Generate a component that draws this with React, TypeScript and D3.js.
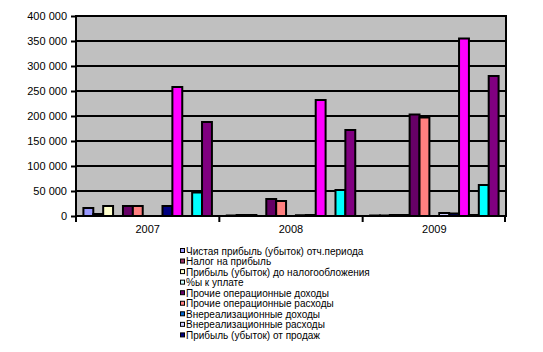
import React, { useEffect, useRef } from 'react';
import * as d3 from 'd3';

const years = ['2007', '2008', '2009'];

const seriesNames = [
    'Чистая прибыль (убыток) отч.периода',
    'Налог на прибыль',
    'Прибыль (убыток) до налогообложения',
    '%ы к уплате',
    'Прочие операционные доходы',
    'Прочие операционные расходы',
    'Внереализационные доходы',
    'Внереализационные расходы',
    'Прибыль (убыток) от продаж',
    'Выручка',
    'Коммерческие расходы',
    'Валовая прибыль',
    'Себестоимость',
];

// values per series, one per year
const netProfit = [16000, 1000, 1000];
const profitTax = [4000, 2000, 1000];
const profitBeforeTax = [20000, 2000, 2000];
const interestPayable = [0, 0, 2000];
const otherOpIncome = [20000, 34000, 203000];
const otherOpExpenses = [20000, 30000, 197000];
const nonOpIncome = [0, 0, 0];
const nonOpExpenses = [0, 1500, 6000];
const salesProfit = [20000, 2000, 5000];
const revenue = [258000, 232000, 355000];
const sellingExpenses = [0, 0, 2000];
const grossProfit = [47000, 52000, 62000];
const costOfSales = [188000, 172000, 280000];

const seriesValues = [
    netProfit, profitTax, profitBeforeTax, interestPayable, otherOpIncome, otherOpExpenses,
    nonOpIncome, nonOpExpenses, salesProfit, revenue, sellingExpenses, grossProfit, costOfSales,
];

const colors = [
    '#9999FF', '#993366', '#FFFFCC', '#CCFFFF', '#660066', '#FF8080',
    '#0066CC', '#CCCCFF', '#000080', '#FF00FF', '#FFFF00', '#00FFFF', '#800080',
];

const yTicks = [0, 50000, 100000, 150000, 200000, 250000, 300000, 350000, 400000];
const legendCount = 9;

const App = () => {
    const svgRef = useRef<SVGSVGElement>(null);

    useEffect(() => {
        const width = 543;
        const height = 352;
        const plot = { left: 76, right: 506, top: 16, bottom: 216 };
        const font = 'Arial, "Liberation Sans", sans-serif';

        const svg = d3.select(svgRef.current);
        svg.selectAll('*').remove();
        svg.attr('width', width).attr('height', height);

        svg.append('rect')
            .attr('width', width)
            .attr('height', height)
            .attr('fill', 'white');

        const x = d3.scaleBand()
            .domain(years)
            .range([plot.left, plot.right]);

        const xInner = d3.scaleBand()
            .domain(seriesNames.map((d, i) => String(i)))
            .range([0, x.bandwidth()])
            .paddingInner(0)
            .paddingOuter(0.75);

        const y = d3.scaleLinear()
            .domain([0, 400000])
            .range([plot.bottom, plot.top]);

        const fmt = (v: number) => d3.format(',')(v).replace(/,/g, ' ');

        // plot background
        svg.append('rect')
            .attr('x', plot.left)
            .attr('y', plot.top)
            .attr('width', plot.right - plot.left)
            .attr('height', plot.bottom - plot.top)
            .attr('fill', '#C0C0C0');

        // gridlines
        svg.append('g')
            .selectAll('line')
            .data(yTicks.slice(1))
            .enter()
            .append('line')
            .attr('x1', plot.left)
            .attr('x2', plot.right)
            .attr('y1', d => y(d))
            .attr('y2', d => y(d))
            .attr('stroke', 'black')
            .attr('stroke-width', 2);

        // bars
        seriesValues.forEach((vals, si) => {
            svg.append('g')
                .selectAll('rect')
                .data(years.map((yr, yi) => ({ yr, v: vals[yi] })).filter(d => d.v > 0))
                .enter()
                .append('rect')
                .attr('x', d => (x(d.yr) as number) + (xInner(String(si)) as number))
                .attr('y', d => y(d.v))
                .attr('width', xInner.bandwidth())
                .attr('height', d => y(0) - y(d.v))
                .attr('fill', colors[si])
                .attr('stroke', 'black')
                .attr('stroke-width', 2);
        });

        // frame
        svg.append('rect')
            .attr('x', plot.left)
            .attr('y', plot.top)
            .attr('width', plot.right - plot.left)
            .attr('height', plot.bottom - plot.top)
            .attr('fill', 'none')
            .attr('stroke', 'black')
            .attr('stroke-width', 2);

        // y axis
        const yAxis = d3.axisLeft(y)
            .tickValues(yTicks)
            .tickSize(5)
            .tickPadding(4)
            .tickFormat(d => fmt(d as number));

        const gy = svg.append('g')
            .attr('transform', `translate(${plot.left},0)`)
            .call(yAxis);
        gy.select('.domain').remove();
        gy.selectAll('line').attr('stroke', 'black').attr('stroke-width', 2);
        gy.selectAll('text')
            .style('font-family', font)
            .style('font-size', '11px')
            .attr('fill', 'black');

        // x axis: ticks at category boundaries
        const bounds = [...years.map(d => x(d) as number), plot.right - 1];
        svg.append('g')
            .selectAll('line')
            .data(bounds)
            .enter()
            .append('line')
            .attr('x1', d => d)
            .attr('x2', d => d)
            .attr('y1', plot.bottom)
            .attr('y2', plot.bottom + 6)
            .attr('stroke', 'black')
            .attr('stroke-width', 2);

        svg.append('g')
            .selectAll('text')
            .data(years)
            .enter()
            .append('text')
            .attr('x', d => (x(d) as number) + x.bandwidth() / 2)
            .attr('y', plot.bottom + 17)
            .attr('text-anchor', 'middle')
            .style('font-family', font)
            .style('font-size', '11px')
            .text(d => d);

        // legend (only the first items fit)
        const legend = svg.append('g')
            .selectAll('g')
            .data(seriesNames.slice(0, legendCount))
            .enter()
            .append('g')
            .attr('transform', (d, i) => `translate(180, ${251 + i * 10.55})`);

        legend.append('rect')
            .attr('x', 0.5)
            .attr('y', -2.5)
            .attr('width', 4)
            .attr('height', 4)
            .attr('fill', (d, i) => colors[i])
            .attr('stroke', 'black')
            .attr('stroke-width', 1);

        legend.append('text')
            .attr('x', 6)
            .attr('y', 0)
            .attr('dy', '0.35em')
            .style('font-family', font)
            .style('font-size', '10px')
            .text(d => d);
    }, []);

    return (
        <div style={{ position: 'absolute', left: 0, top: 0 }}>
            <svg ref={svgRef} style={{ display: 'block' }}></svg>
        </div>
    );
};

export default App;
